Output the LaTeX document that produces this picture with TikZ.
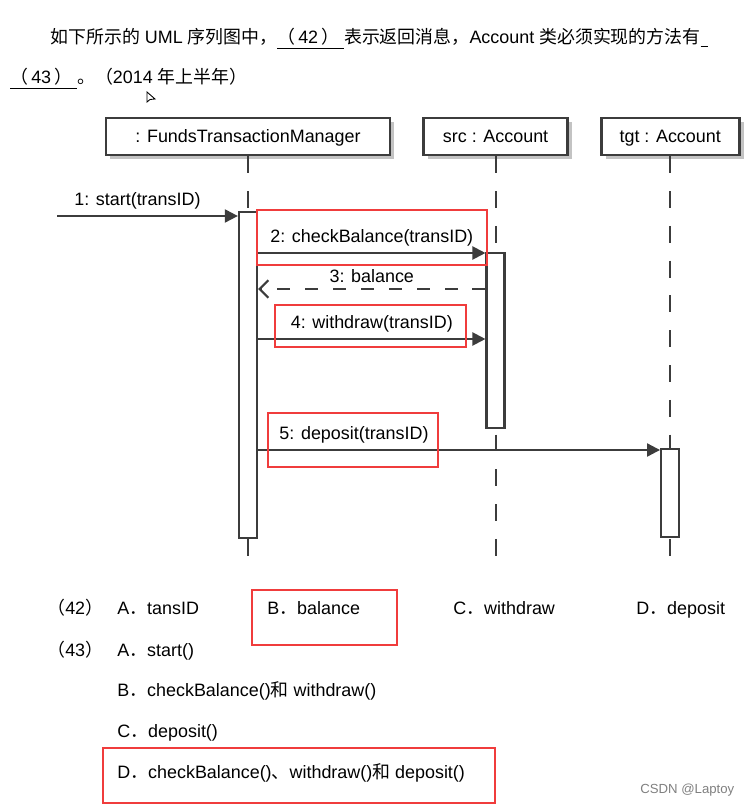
\documentclass[tikz,border=0pt]{standalone}
\usepackage{fontspec}
\setmainfont{Liberation Sans}
\newfontfamily\zh{Noto Sans CJK SC}
\usepackage{tikz}
\usetikzlibrary{arrows.meta, shadows, positioning}

\definecolor{umlgray}{RGB}{60,60,60}
\definecolor{shadowgray}{RGB}{195,195,195}
\definecolor{markred}{RGB}{240,60,60}

\begin{document}
\begin{tikzpicture}[
        x=0.02cm, y=-0.02cm,
        node distance=0.62cm,
        every node/.style={font=\fontsize{10.2}{12}\selectfont},
        txt/.style={anchor=base west, inner sep=0pt},
        object/.style={rectangle, draw=umlgray, line width=1.5pt, fill=white, minimum height=0.74cm, inner sep=2pt, text height=1.6ex, text depth=0.3ex, drop shadow={shadow xshift=2.5pt, shadow yshift=-2.5pt, fill=shadowgray, opacity=1}},
        activation/.style={rectangle, draw=umlgray, line width=1.3pt, fill=white, minimum width=0.36cm, inner sep=0pt},
        lifeline/.style={umlgray, line width=1.2pt, dash pattern=on 9.6pt off 10.2pt},
        msg/.style={umlgray, line width=1.2pt, -{Triangle[length=7.4pt, width=7.4pt]}},
        reply/.style={umlgray, line width=1.2pt, dash pattern=on 7.4pt off 8.5pt, -{Straight Barb[length=5pt, width=10pt]}},
        msglabel/.style={above, text=black, inner sep=3pt},
        redmark/.style={draw=markred, line width=1.2pt}
    ]

    \useasboundingbox (0,0) rectangle (750,807);

    \node (q1) [txt] at (50,44) {{\zh 如下所示的} UML {\zh 序列图中，}\underline{{\zh （}\,42\,{\zh ）}\ }{\zh 表示返回消息，}Account {\zh 类必须实现的方法有}\underline{\hspace{4pt}}};
    \node (q2) [txt] at (10,84) {\underline{{\zh （}\,43\,{\zh ）}\ }{\zh 。（}2014 {\zh 年上半年）}};
    \draw [line width=0.5pt] (147,92) -- (147,102) -- (150,99.5) -- (155,99) -- cycle;

    \node (fm) [object, minimum width=5.68cm] at (248,136.5) {: FundsTransactionManager};
    \node (src) [object, minimum width=2.88cm, right=of fm] {src : Account};
    \node (tgt) [object, minimum width=2.76cm, right=of src] {tgt : Account};

    \coordinate (bottom) at (0,560);
    \draw [lifeline] (fm.south) -- (fm.south |- bottom);
    \draw [lifeline] (src.south) -- (src.south |- bottom);
    \draw [lifeline] (tgt.south) -- (tgt.south |- bottom);

    \node (act1) [activation, minimum height=6.52cm] at (fm |- 0,375) {};
    \node (act2) [activation, minimum height=3.5cm] at (src |- 0,340.5) {};
    \node (act3) [activation, minimum height=1.76cm] at (tgt |- 0,493) {};

    \coordinate (caller) at (57,216);
    \draw [msg] (caller) -- node [msglabel, xshift=-0.2cm] (t1) {1: start(transID)} (act1.west |- caller);
    \draw [msg] (act1.east |- 0,253) -- node [msglabel] (t2) {2: checkBalance(transID)} (act2.west |- 0,253);
    \draw [reply] (act2.west |- 0,289) -- node [msglabel] (t3) {3: balance} (act1.east |- 0,289);
    \draw [msg] (act1.east |- 0,339) -- node [msglabel] (t4) {4: withdraw(transID)} (act2.west |- 0,339);
    \draw [msg] (act1.east |- 0,450) -- node [msglabel, pos=0, anchor=south west, xshift=0.3cm] (t5) {5: deposit(transID)} (act3.west |- 0,450);

    \draw [redmark] (257,210) rectangle (487,265);
    \draw [redmark] (275,305) rectangle (466,347);
    \draw [redmark] (268,413) rectangle (438,467);

    \node (n42) [txt] at (47,614.5) {{\zh （}42{\zh ）}};
    \node (a42) [txt] at (117,614.5) {A{\zh ．}tansID};
    \node (b42) [txt] at (267,614.5) {B{\zh ．}balance};
    \node (c42) [txt] at (453,614.5) {C{\zh ．}withdraw};
    \node (d42) [txt] at (636,614.5) {D{\zh ．}deposit};
    \node (n43) [txt] at (47,656.5) {{\zh （}43{\zh ）}};
    \node (a43) [txt] at (117,656.5) {A{\zh ．}start()};
    \node (b43) [txt] at (117,696.5) {B{\zh ．}checkBalance(){\zh 和} withdraw()};
    \node (c43) [txt] at (117,737.5) {C{\zh ．}deposit()};
    \node (d43) [txt] at (117,778.5) {D{\zh ．}checkBalance(){\zh 、}withdraw(){\zh 和} deposit()};

    \draw [redmark] (252,590) rectangle (397,645);
    \draw [redmark] (103,748) rectangle (495,803);

    \node (wm) [txt, font=\fontsize{7.5}{9}\selectfont, text=gray] at (640,793) {CSDN @Laptoy};

\end{tikzpicture}
\end{document}
